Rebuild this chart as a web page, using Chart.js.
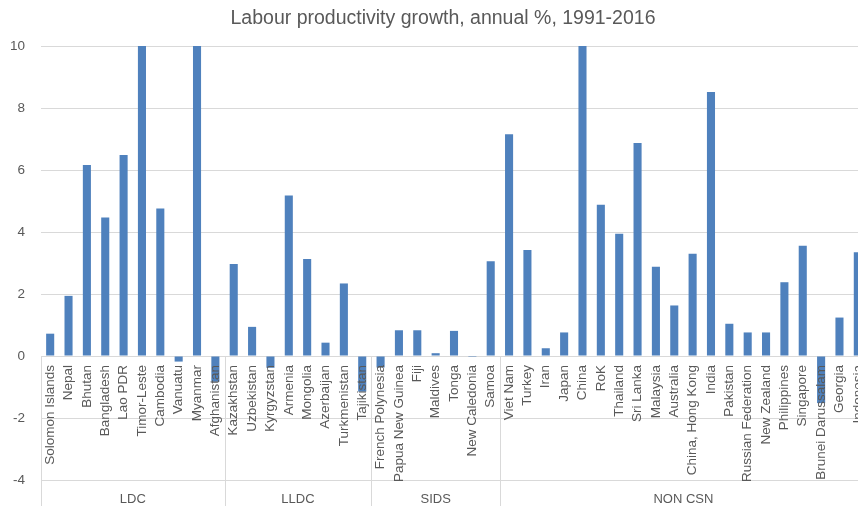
<!DOCTYPE html>
<html>
<head>
<meta charset="utf-8">
<script src="https://cdn.jsdelivr.net/npm/chart.js@4.4.1/dist/chart.umd.min.js"></script>
<style>
  html, body { margin: 0; padding: 0; background: #fff; overflow: hidden; }
  #wrap { width: 886px; height: 506px; }
</style>
</head>
<body>
<div id="wrap"><canvas id="prodChart"></canvas></div>
<script>
// country groups, in the order they appear along the axis
var groupNames = ['LDC', 'LLDC', 'SIDS', 'NON CSN'];
var groupSizes = [10, 8, 7, 20];

var countries = [
    'Solomon Islands', 'Nepal', 'Bhutan', 'Bangladesh', 'Lao PDR', 'Timor-Leste', 'Cambodia', 'Vanuatu', 'Myanmar', 'Afghanistan',
    'Kazakhstan', 'Uzbekistan', 'Kyrgyzstan', 'Armenia', 'Mongolia', 'Azerbaijan', 'Turkmenistan', 'Tajikistan',
    'French Polynesia', 'Papua New Guinea', 'Fiji', 'Maldives', 'Tonga', 'New Caledonia', 'Samoa',
    'Viet Nam', 'Turkey', 'Iran', 'Japan', 'China', 'RoK', 'Thailand', 'Sri Lanka', 'Malaysia', 'Australia',
    'China, Hong Kong', 'India', 'Pakistan', 'Russian Federation', 'New Zealand', 'Philippines', 'Singapore',
    'Brunei Darussalam', 'Georgia', 'Indonesia'
];

// labour productivity growth, annual %, 1991-2016
var growth = [
    0.72, 1.94, 6.16, 4.47, 6.48, 10.9, 4.76, -0.18, 11.2, -0.83,
    2.97, 0.94, -0.38, 5.18, 3.13, 0.43, 2.34, -1.15,
    -0.37, 0.83, 0.83, 0.09, 0.81, -0.03, 3.06,
    7.15, 3.42, 0.25, 0.76, 10.5, 4.88, 3.94, 6.87, 2.88, 1.63,
    3.30, 8.52, 1.04, 0.76, 0.76, 2.38, 3.56,
    -1.52, 1.24, 3.35
];

var yTicks = { min: -4, max: 10, step: 2 };
var chartTitle = 'Labour productivity growth, annual %, 1991-2016';

var textColor = '#595959';
var lineColor = '#d9d9d9';
var baseFont = '"Liberation Sans", Arial, sans-serif';

// title, category names under the zero line, and group boxes below the plot
var groupAxis = {
    id: 'groupAxis',
    afterDraw: function (chart) {
        var ctx = chart.ctx;
        var x = chart.scales.x;
        var y = chart.scales.y;
        var zeroY = y.getPixelForValue(0);
        var half = (x.getPixelForValue(1) - x.getPixelForValue(0)) / 2;

        ctx.save();
        ctx.fillStyle = textColor;
        ctx.textAlign = 'center';
        ctx.textBaseline = 'middle';
        ctx.font = '19.5px ' + baseFont;
        ctx.fillText(chartTitle, chart.width / 2, 19);

        ctx.font = '13.5px ' + baseFont;
        ctx.textAlign = 'right';
        countries.forEach(function (name, i) {
            ctx.save();
            ctx.translate(x.getPixelForValue(i), zeroY + 9);
            ctx.rotate(-Math.PI / 2);
            ctx.fillText(name, 0, 0);
            ctx.restore();
        });

        ctx.strokeStyle = lineColor;
        ctx.lineWidth = 1;
        ctx.textAlign = 'center';
        ctx.font = '13px ' + baseFont;
        var start = 0;
        groupNames.forEach(function (g, k) {
            var left = x.getPixelForValue(start) - half;
            var right = x.getPixelForValue(start + groupSizes[k] - 1) + half;
            var lx = Math.round(left) + 0.5;
            ctx.beginPath();
            ctx.moveTo(lx, zeroY);
            ctx.lineTo(lx, chart.height);
            ctx.stroke();
            if (k === groupNames.length - 1) {
                var rx = Math.round(right) + 0.5;
                ctx.beginPath();
                ctx.moveTo(rx, zeroY);
                ctx.lineTo(rx, chart.height);
                ctx.stroke();
            }
            ctx.fillText(g, (left + right) / 2, 499.5);
            start += groupSizes[k];
        });
        ctx.restore();
    }
};

var ctxProd = document.getElementById('prodChart').getContext('2d');
var prodChart = new Chart(ctxProd, {
    type: 'bar',
    data: {
        labels: countries,
        datasets: [{
            data: growth,
            backgroundColor: '#4f81bd',
            borderWidth: 0,
            barPercentage: 0.44,
            categoryPercentage: 1,
            clip: 0
        }]
    },
    options: {
        responsive: true,
        maintainAspectRatio: false,
        animation: false,
        layout: { padding: { top: 46, right: 19, bottom: 0, left: 0 } },
        scales: {
            x: {
                grid: { display: false },
                border: { display: false },
                ticks: { display: false },
                afterFit: function (s) { s.height = 26; }
            },
            y: {
                min: yTicks.min,
                max: yTicks.max,
                ticks: {
                    stepSize: yTicks.step,
                    color: textColor,
                    padding: 16,
                    font: { family: baseFont, size: 13.5 }
                },
                grid: { color: lineColor, lineWidth: 1, drawTicks: false },
                border: { display: false },
                afterFit: function (s) { s.width = 41; }
            }
        },
        plugins: {
            legend: { display: false },
            tooltip: { enabled: false },
            title: { display: false }
        }
    },
    plugins: [groupAxis]
});
</script>
</body>
</html>
